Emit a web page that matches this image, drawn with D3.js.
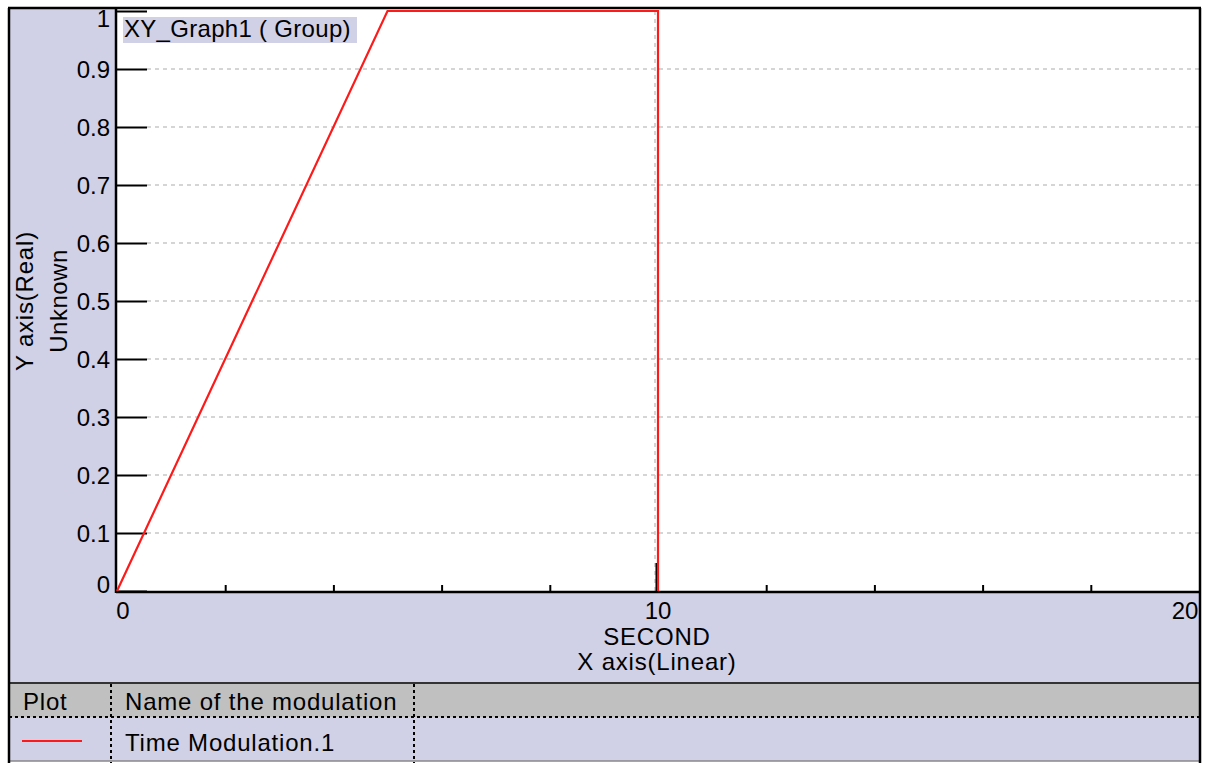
<!DOCTYPE html>
<html><head><meta charset="utf-8">
<script src="https://cdn.jsdelivr.net/npm/d3@7"></script>
<style>
html,body{margin:0;padding:0;background:#fff;}
svg{display:block;}
text{font-family:"Liberation Sans",Arial,sans-serif;fill:#000;}
</style></head>
<body><svg id="c" width="1206" height="763"></svg>
<script>
// ---- data ----
const seriesX = [0, 5, 10, 10];
const seriesY = [0, 1, 1, 0];
const seriesName = "Time Modulation.1";
const yTicks = [0, 0.1, 0.2, 0.3, 0.4, 0.5, 0.6, 0.7, 0.8, 0.9, 1];
const yTickLabels = ["0","0.1","0.2","0.3","0.4","0.5","0.6","0.7","0.8","0.9","1"];
const xMinorTicks = [2, 4, 6, 8, 12, 14, 16, 18];
const xMajorTicks = [0, 10, 20];
const xTickLabels = ["0", "10", "20"];
const graphTitle = "XY_Graph1 ( Group)";
const xTitle1 = "SECOND", xTitle2 = "X axis(Linear)";
const yTitle1 = "Y axis(Real)", yTitle2 = "Unknown";
const legendHeaders = ["Plot", "Name of the modulation"];

// ---- layout ----
const lav = "#d0d0e6", hdr = "#c0c0c0", red = "#ff1a1a";
const L = 117, R = 1199, T = 11, B = 591;
const svg = d3.select("#c");
const x = d3.scaleLinear().domain([0, 20]).range([L, R]);
const y = d3.scaleLinear().domain([0, 1]).range([B, T]);

// frame background
svg.append("rect").attr("x", 9).attr("y", 8).attr("width", 1191).attr("height", 753).attr("fill", lav);
// plot area
svg.append("rect").attr("x", L).attr("y", 8).attr("width", R - L).attr("height", B - 8).attr("fill", "#fff");

// horizontal grid (dashed)
const g = svg.append("g");
g.selectAll("line.hg").data(yTicks.filter(v => v > 0 && v < 1)).join("line")
  .attr("x1", L + 30).attr("x2", R).attr("y1", d => y(d)).attr("y2", d => y(d))
  .attr("stroke", "#c8c8c8").attr("stroke-width", 1.5).attr("stroke-dasharray", "4,4");
// vertical grid at x=10
g.append("line").attr("x1", x(10) - 3).attr("x2", x(10) - 3).attr("y1", T).attr("y2", B)
  .attr("stroke", "#c8c8c8").attr("stroke-width", 1.5).attr("stroke-dasharray", "4,4");

// y axis ticks inside plot
const yAxis = d3.axisRight(y).tickValues(yTicks).tickSize(30).tickFormat("");
const ya = svg.append("g").attr("transform", `translate(${L},0)`).call(yAxis);
ya.select(".domain").remove();
ya.selectAll("line").attr("stroke", "#000").attr("stroke-width", 2);

// y tick labels
svg.append("g").selectAll("text").data(yTicks).join("text")
  .attr("x", 110).attr("y", d => Math.min(Math.max(y(d), T + 7), B - 7))
  .attr("dy", "0.36em").attr("text-anchor", "end").attr("font-size", 24)
  .text((d, i) => yTickLabels[i]);

// x axis ticks
const xMinor = d3.axisTop(x).tickValues(xMinorTicks).tickSize(6).tickFormat("");
const xa = svg.append("g").attr("transform", `translate(0,${B})`).call(xMinor);
xa.select(".domain").remove();
xa.selectAll("line").attr("stroke", "#000").attr("stroke-width", 2);
const xMaj = d3.axisTop(x).tickValues([10]).tickSize(28).tickFormat("");
const xb = svg.append("g").attr("transform", `translate(-2,${B})`).call(xMaj);
xb.select(".domain").remove();
xb.selectAll("line").attr("stroke", "#000").attr("stroke-width", 2);

// x tick labels
svg.append("g").selectAll("text").data(xMajorTicks).join("text")
  .attr("x", d => Math.min(Math.max(x(d), L + 6), R - 14)).attr("y", 619)
  .attr("text-anchor", "middle").attr("font-size", 24)
  .text((d, i) => xTickLabels[i]);

// axis titles
const ts = (sel) => sel.attr("font-size", 24).attr("letter-spacing", "0.8px");
ts(svg.append("text").attr("x", 657).attr("y", 645).attr("text-anchor", "middle")).text(xTitle1);
ts(svg.append("text").attr("x", 657).attr("y", 670).attr("text-anchor", "middle")).text(xTitle2);
ts(svg.append("text").attr("transform", "translate(33,301) rotate(-90)").attr("text-anchor", "middle")).text(yTitle1);
svg.append("text").attr("transform", "translate(67,301) rotate(-90)").attr("text-anchor", "middle")
  .attr("font-size", 24).attr("letter-spacing", "0.5px").text(yTitle2);

// axis lines
svg.append("line").attr("x1", L - 1).attr("x2", L - 1).attr("y1", 8).attr("y2", B + 2).attr("stroke", "#000").attr("stroke-width", 2.5);
svg.append("line").attr("x1", L - 1).attr("x2", R).attr("y1", B + 1).attr("y2", B + 1).attr("stroke", "#000").attr("stroke-width", 2.5);

// title box
svg.append("rect").attr("x", 123).attr("y", 17).attr("width", 234).attr("height", 26).attr("fill", lav);
svg.append("text").attr("x", 124).attr("y", 37).attr("font-size", 24).attr("letter-spacing", "0.3px").text(graphTitle);

// legend table
const LT = 684, LM = 717, LB = 760;
svg.append("rect").attr("x", 9).attr("y", LT).attr("width", 1191).attr("height", LM - LT).attr("fill", hdr);
svg.append("line").attr("x1", 9).attr("x2", 1200).attr("y1", LT - 1).attr("y2", LT - 1).attr("stroke", "#333").attr("stroke-width", 2);
svg.append("line").attr("x1", 9).attr("x2", 1200).attr("y1", LM).attr("y2", LM).attr("stroke", "#000").attr("stroke-width", 2).attr("stroke-dasharray", "3,3");
[111, 414].forEach(cx => svg.append("line").attr("x1", cx).attr("x2", cx).attr("y1", LT).attr("y2", 763)
  .attr("stroke", "#000").attr("stroke-width", 2).attr("stroke-dasharray", "3,3"));
const ls = (sel) => sel.attr("font-size", 24).attr("letter-spacing", "0.8px");
ls(svg.append("text").attr("x", 23).attr("y", 710)).text(legendHeaders[0]);
ls(svg.append("text").attr("x", 125).attr("y", 710)).text(legendHeaders[1]);
svg.append("line").attr("x1", 22).attr("x2", 82).attr("y1", 741).attr("y2", 741).attr("stroke", red).attr("stroke-width", 2.2);
ls(svg.append("text").attr("x", 125).attr("y", 751)).text(seriesName);
svg.append("line").attr("x1", 9).attr("x2", 1200).attr("y1", LB + 1).attr("y2", LB + 1).attr("stroke", "#888").attr("stroke-width", 1.5);

// outer frame
svg.append("line").attr("x1", 8).attr("x2", 1201).attr("y1", 8).attr("y2", 8).attr("stroke", "#000").attr("stroke-width", 2.5);
svg.append("line").attr("x1", 9).attr("x2", 9).attr("y1", 8).attr("y2", 763).attr("stroke", "#000").attr("stroke-width", 2.5);
svg.append("line").attr("x1", 1200).attr("x2", 1200).attr("y1", 8).attr("y2", 763).attr("stroke", "#000").attr("stroke-width", 2.5);

// series line (drawn last so it sits above the frame)
const line = d3.line().x((d, i) => x(seriesX[i])).y(d => y(d));
svg.append("path").datum(seriesY).attr("d", line).attr("fill", "none")
  .attr("stroke", red).attr("stroke-width", 2.2);
</script></body></html>
